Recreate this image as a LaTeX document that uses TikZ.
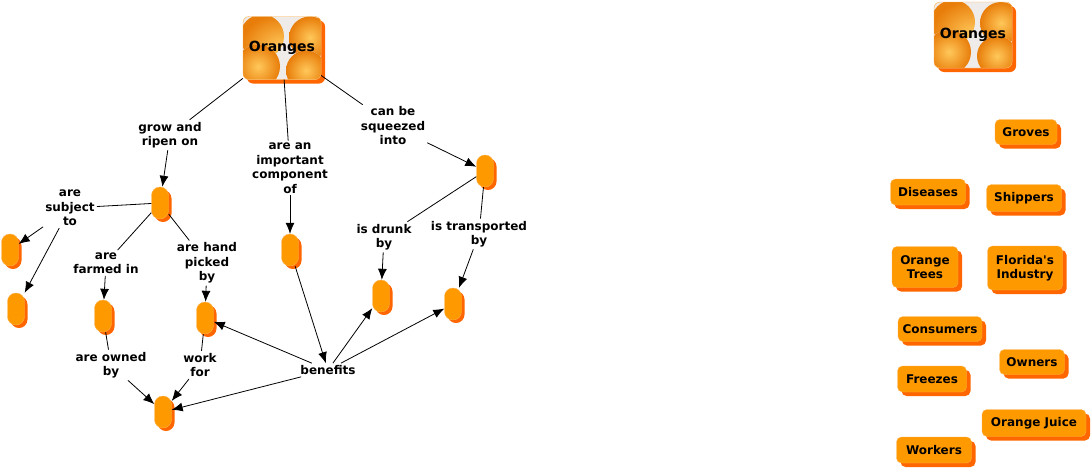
\documentclass[tikz,border=0pt]{standalone}
\usepackage{fontspec}
\setmainfont{DejaVu Sans}
\usepackage{tikz}
\usetikzlibrary{positioning,calc,arrows.meta,shadows}
\definecolor{cmapOrange}{RGB}{255,153,0}
\definecolor{cmapShadow}{RGB}{255,102,0}
\definecolor{cmapBorder}{RGB}{255,175,70}
\definecolor{photoBack}{RGB}{238,235,232}
\definecolor{fruitLight}{RGB}{255,200,90}
\definecolor{fruitDark}{RGB}{232,125,10}
\tikzset{
  conceptBox/.style={
    rectangle,
    rounded corners=5pt,
    draw=cmapBorder,
    fill=cmapOrange,
    general shadow={fill=cmapShadow, shadow xshift=4pt, shadow yshift=-4pt},
    font=\fontsize{12}{13.5}\selectfont\bfseries,
    align=center,
    inner xsep=3pt,
    inner ysep=2pt
  },
  emptyConcept/.style={
    rectangle,
    rounded corners=8.5pt,
    draw=cmapBorder,
    fill=cmapOrange,
    general shadow={fill=cmapShadow, shadow xshift=3pt, shadow yshift=-3pt},
    minimum width=17pt,
    minimum height=32pt,
    inner sep=0pt
  },
  fruit/.style={
    shading=radial,
    inner color=fruitLight,
    outer color=fruitDark
  },
  photoBox/.style={
    rectangle,
    rounded corners=6pt,
    draw=cmapBorder,
    fill=photoBack,
    minimum width=78pt,
    minimum height=63pt,
    general shadow={fill=cmapShadow, shadow xshift=4pt, shadow yshift=-4pt},
    font=\fontsize{14}{16}\selectfont\bfseries,
    path picture={
      \fill[fruit] ($(path picture bounding box.north west)+(19pt,-20pt)$) circle (22pt);
      \fill[fruit] ($(path picture bounding box.north west)+(15pt,-50pt)$) circle (22pt);
      \fill[fruit] ($(path picture bounding box.north west)+(67pt,-21pt)$) circle (21pt);
      \fill[fruit] ($(path picture bounding box.north west)+(63pt,-54pt)$) circle (20pt);
    }
  },
  linkLabel/.style={
    font=\fontsize{12}{14.5}\selectfont\bfseries,
    align=center,
    inner sep=2pt
  },
  plainLine/.style={
    line width=0.8pt
  },
  arrowLine/.style={
    -{Latex[length=11pt,width=9pt]},
    line width=0.8pt
  }
}

\begin{document}
\begin{tikzpicture}[x=1pt,y=-1pt]
        \useasboundingbox[fill=white] (0,0) rectangle (1092,469);

        % concepts of the map
        \node[photoBox] (oranges) at (282,48) {Oranges};
        \node[emptyConcept] (cA) at (160,203) {};
        \node[emptyConcept] (cB1) at (10,250) {};
        \node[emptyConcept] (cB2) at (16,309) {};
        \node[emptyConcept] (cC) at (103,316) {};
        \node[emptyConcept] (cD) at (205,318) {};
        \node[emptyConcept] (cE) at (290,250) {};
        \node[emptyConcept] (cF) at (485,171) {};
        \node[emptyConcept] (cG) at (381,296) {};
        \node[emptyConcept] (cH) at (453,304) {};
        \node[emptyConcept] (cI) at (163,412) {};

        % linking phrases
        \node[linkLabel] (growOn) at (170,135) {grow and\\ripen on};
        \node[linkLabel] (componentOf) at (290,168) {are an\\important\\component\\of};
        \node[linkLabel] (squeezedInto) at (393,126) {can be\\squeezed\\into};
        \node[linkLabel] (subjectTo) at (70,208) {are\\subject\\to};
        \node[linkLabel] (farmedIn) at (106,263) {are\\farmed in};
        \node[linkLabel] (handPicked) at (207,263) {are hand\\picked\\by};
        \node[linkLabel] (drunkBy) at (384,237) {is drunk\\by};
        \node[linkLabel] (transportedBy) at (479,234) {is transported\\by};
        \node[linkLabel] (ownedBy) at (111,365) {are owned\\by};
        \node[linkLabel] (workFor) at (200,365) {work\\for};
        \node[linkLabel] (benefits) at (328,370) {benefits};

        \draw[plainLine] (oranges) -- (growOn);
        \draw[arrowLine] (growOn) -- (cA);
        \draw[plainLine] (oranges) -- (componentOf);
        \draw[arrowLine] (componentOf) -- (cE);
        \draw[plainLine] (oranges) -- (squeezedInto);
        \draw[arrowLine] (squeezedInto) -- (cF);
        \draw[plainLine] (cA) -- (subjectTo);
        \draw[arrowLine] (subjectTo) -- (cB1);
        \draw[arrowLine] (subjectTo) -- (cB2);
        \draw[plainLine] (cA) -- (farmedIn);
        \draw[arrowLine] (farmedIn) -- (cC);
        \draw[plainLine] (cA) -- (handPicked);
        \draw[arrowLine] (handPicked) -- (cD);
        \draw[plainLine] (cF) -- (drunkBy);
        \draw[arrowLine] (drunkBy) -- (cG);
        \draw[plainLine] (cF) -- (transportedBy);
        \draw[arrowLine] (transportedBy) -- (cH);
        \draw[plainLine] (cC) -- (ownedBy);
        \draw[arrowLine] (ownedBy) -- (cI);
        \draw[plainLine] (cD) -- (workFor);
        \draw[arrowLine] (workFor) -- (cI);
        \draw[arrowLine] (cE) -- (benefits);
        \draw[arrowLine] (benefits) -- (cD);
        \draw[arrowLine] (benefits) -- (cG);
        \draw[arrowLine] (benefits) -- (cH);
        \draw[arrowLine] (benefits) -- (cI);

        % unlinked concepts
        \node[photoBox, minimum height=66pt] (orangesSmall) at (973,35) {Oranges};
        \node[conceptBox, minimum width=62pt, minimum height=25pt] (groves) at (1026,132) {Groves};
        \node[conceptBox, minimum width=75pt, minimum height=26pt] (diseases) at (928,192) {Diseases};
        \node[conceptBox, minimum width=75pt, minimum height=27pt] (shippers) at (1024,198) {Shippers};
        \node[conceptBox, minimum width=66pt, minimum height=41pt] (orangeTrees) at (925,267) {Orange\\Trees};
        \node[conceptBox, minimum width=75pt, minimum height=44pt] (floridaIndustry) at (1025,268) {Florida\textquotesingle s\\Industry};
        \node[conceptBox, minimum width=84pt, minimum height=25pt] (consumers) at (940,329) {Consumers};
        \node[conceptBox, minimum width=65pt, minimum height=25pt] (owners) at (1032,362) {Owners};
        \node[conceptBox, minimum width=69pt, minimum height=26pt] (freezes) at (932,379) {Freezes};
        \node[conceptBox, minimum width=104pt, minimum height=27pt] (orangeJuice) at (1034,423) {Orange Juice};
        \node[conceptBox, minimum width=75pt, minimum height=26pt] (workers) at (934,450) {Workers};
    \end{tikzpicture}
\end{document}
